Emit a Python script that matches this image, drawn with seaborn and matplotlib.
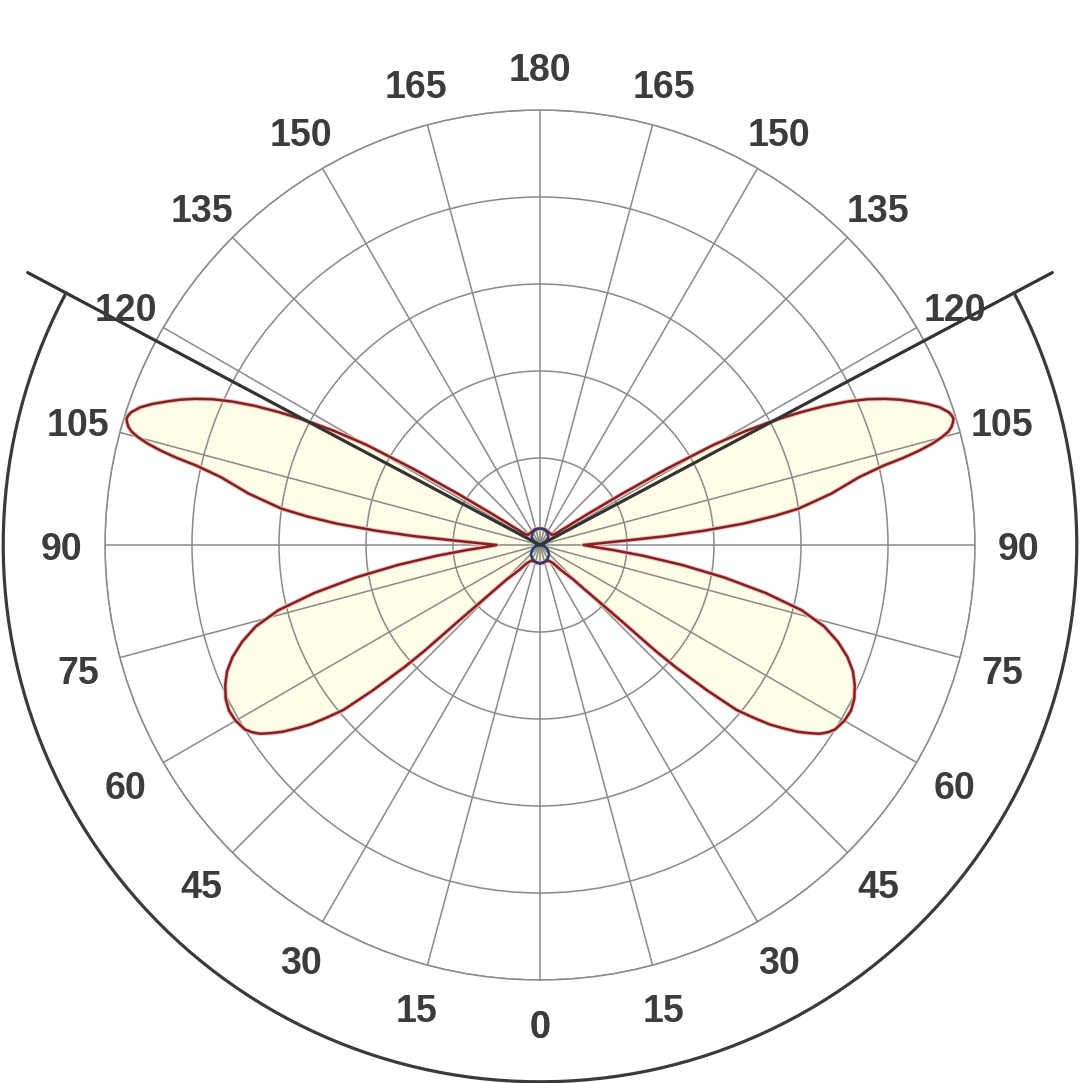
import numpy as np
import pandas as pd
import matplotlib
matplotlib.use("Agg")
import matplotlib.pyplot as plt
from matplotlib.transforms import offset_copy
import seaborn as sns

# gamma angle (deg) and relative intensity, C0-C180 plane (mirrored left/right)
gamma = [0, 10, 20, 30, 36, 40, 42, 44, 45, 46, 47, 47.5, 48, 49, 50, 51, 52, 53,
         54, 55, 56, 57, 58, 60, 62, 64, 66, 68, 70, 72, 74, 76, 78, 80, 82, 84,
         86, 88, 90, 91, 92, 93, 94, 95, 96, 97, 98, 100, 102, 103, 103.5, 104,
         104.5, 105, 105.5, 106, 106.5, 107, 107.5, 108, 109, 110, 111, 112, 113,
         114, 115, 116, 117, 118, 119, 120, 121, 122, 123, 124, 126, 130, 150,
         165, 180]
intensity = [0.21, 0.21, 0.2, 0.21, 0.26, 0.38, 0.45, 0.55, 0.7, 0.9, 1.3, 1.8,
             2.1, 2.55, 2.95, 3.15, 3.35, 3.5, 3.65, 3.77, 3.88, 3.95, 4.0, 4.04,
             4.05, 4.02, 3.96, 3.88, 3.76, 3.6, 3.4, 3.1, 2.65, 2.15, 1.65, 1.2,
             0.85, 0.62, 0.5, 0.6, 0.75, 1.0, 1.45, 1.9, 2.35, 2.7, 3.0, 3.4, 3.75,
             4.05, 4.3, 4.5, 4.66, 4.78, 4.87, 4.92, 4.95, 4.97, 4.96, 4.94, 4.86,
             4.74, 4.6, 4.46, 4.3, 4.12, 3.9, 3.65, 3.36, 3.05, 2.7, 2.3, 1.7, 1.1,
             0.65, 0.4, 0.22, 0.18, 0.18, 0.19, 0.19]

# C90 plane (small figure-eight at centre)
gamma_c90 = [0, 15, 30, 45, 60, 75, 90, 105, 120, 135, 150, 165, 180]
intensity_c90 = [0.21, 0.2, 0.18, 0.15, 0.1, 0.05, 0.0, 0.05, 0.095, 0.135,
                 0.165, 0.185, 0.19]

tick_labels = [0, 15, 30, 45, 60, 75, 90, 105, 120, 135, 150, 165, 180]
rings = [1, 2, 3, 4, 5]
cutoff_angle = 118
cutoff_length = 6.67
arc_radius = 6.17


def mirrored(g, v):
    g = np.asarray(g, float)
    v = np.asarray(v, float)
    theta = np.concatenate([g, (360 - g[::-1])[1:]])
    r = np.concatenate([v, v[::-1][1:]])
    return pd.DataFrame({"theta": np.radians(theta), "r": r})


sns.set_theme(style="white")
plt.rcParams["font.family"] = ["Liberation Sans", "DejaVu Sans"]

fig = plt.figure(figsize=(10.83, 10.83), dpi=100)
cx, cy, rad = 540 / 1083, 1 - 545 / 1083, 435 / 1083
ax = fig.add_axes([cx - rad, cy - rad, 2 * rad, 2 * rad], projection="polar")
ax.set_theta_zero_location("S")
ax.set_theta_direction(1)
ax.set_ylim(0, 5)
ax.set_thetagrids(np.arange(0, 360, 15), labels=[])
ax.set_rgrids(rings, labels=[])
ax.grid(True, color="#8a8a8a", lw=1.1)
ax.set_axisbelow("line")
ax.spines["polar"].set_color("#8a8a8a")
ax.spines["polar"].set_linewidth(1.1)
ax.set_facecolor("white")

main = mirrored(gamma, intensity)
c90 = mirrored(gamma_c90, intensity_c90)

ax.fill(main["theta"], main["r"], color="#fdfde8", zorder=1)
ax.fill(c90["theta"], c90["r"], color="#f6f0c8", zorder=1)
sns.lineplot(data=main, x="theta", y="r", sort=False, estimator=None,
             color="#f2c0c0", lw=3.2, ax=ax, zorder=3)
sns.lineplot(data=main, x="theta", y="r", sort=False, estimator=None,
             color="#84201e", lw=1.8, ax=ax, zorder=3)
sns.lineplot(data=c90, x="theta", y="r", sort=False, estimator=None,
             color="#2b3a78", lw=1.8, ax=ax, zorder=3)
ax.set_xlabel("")
ax.set_ylabel("")

# cut-off lines and arc
for t in (cutoff_angle, -cutoff_angle):
    ax.plot([np.radians(t)] * 2, [0, cutoff_length], color="#333333", lw=2.3,
            clip_on=False, zorder=4)
arc_t = np.radians(np.linspace(-cutoff_angle, cutoff_angle, 300))
ax.plot(arc_t, np.full_like(arc_t, arc_radius), color="#3a3a3a", lw=2.3,
        clip_on=False, zorder=4)

# angle labels
label_tr = offset_copy(ax.transData, fig=fig, x=0, y=-5, units="dots")
for v in tick_labels:
    for t in {v, 360 - v}:
        ax.text(np.radians(t), 5.5, str(v), ha="center", va="center",
                fontsize=27, fontweight="bold", color="#3c3c3c",
                transform=label_tr, clip_on=False, zorder=5)

fig.savefig("out.png", dpi=100, facecolor="white")
